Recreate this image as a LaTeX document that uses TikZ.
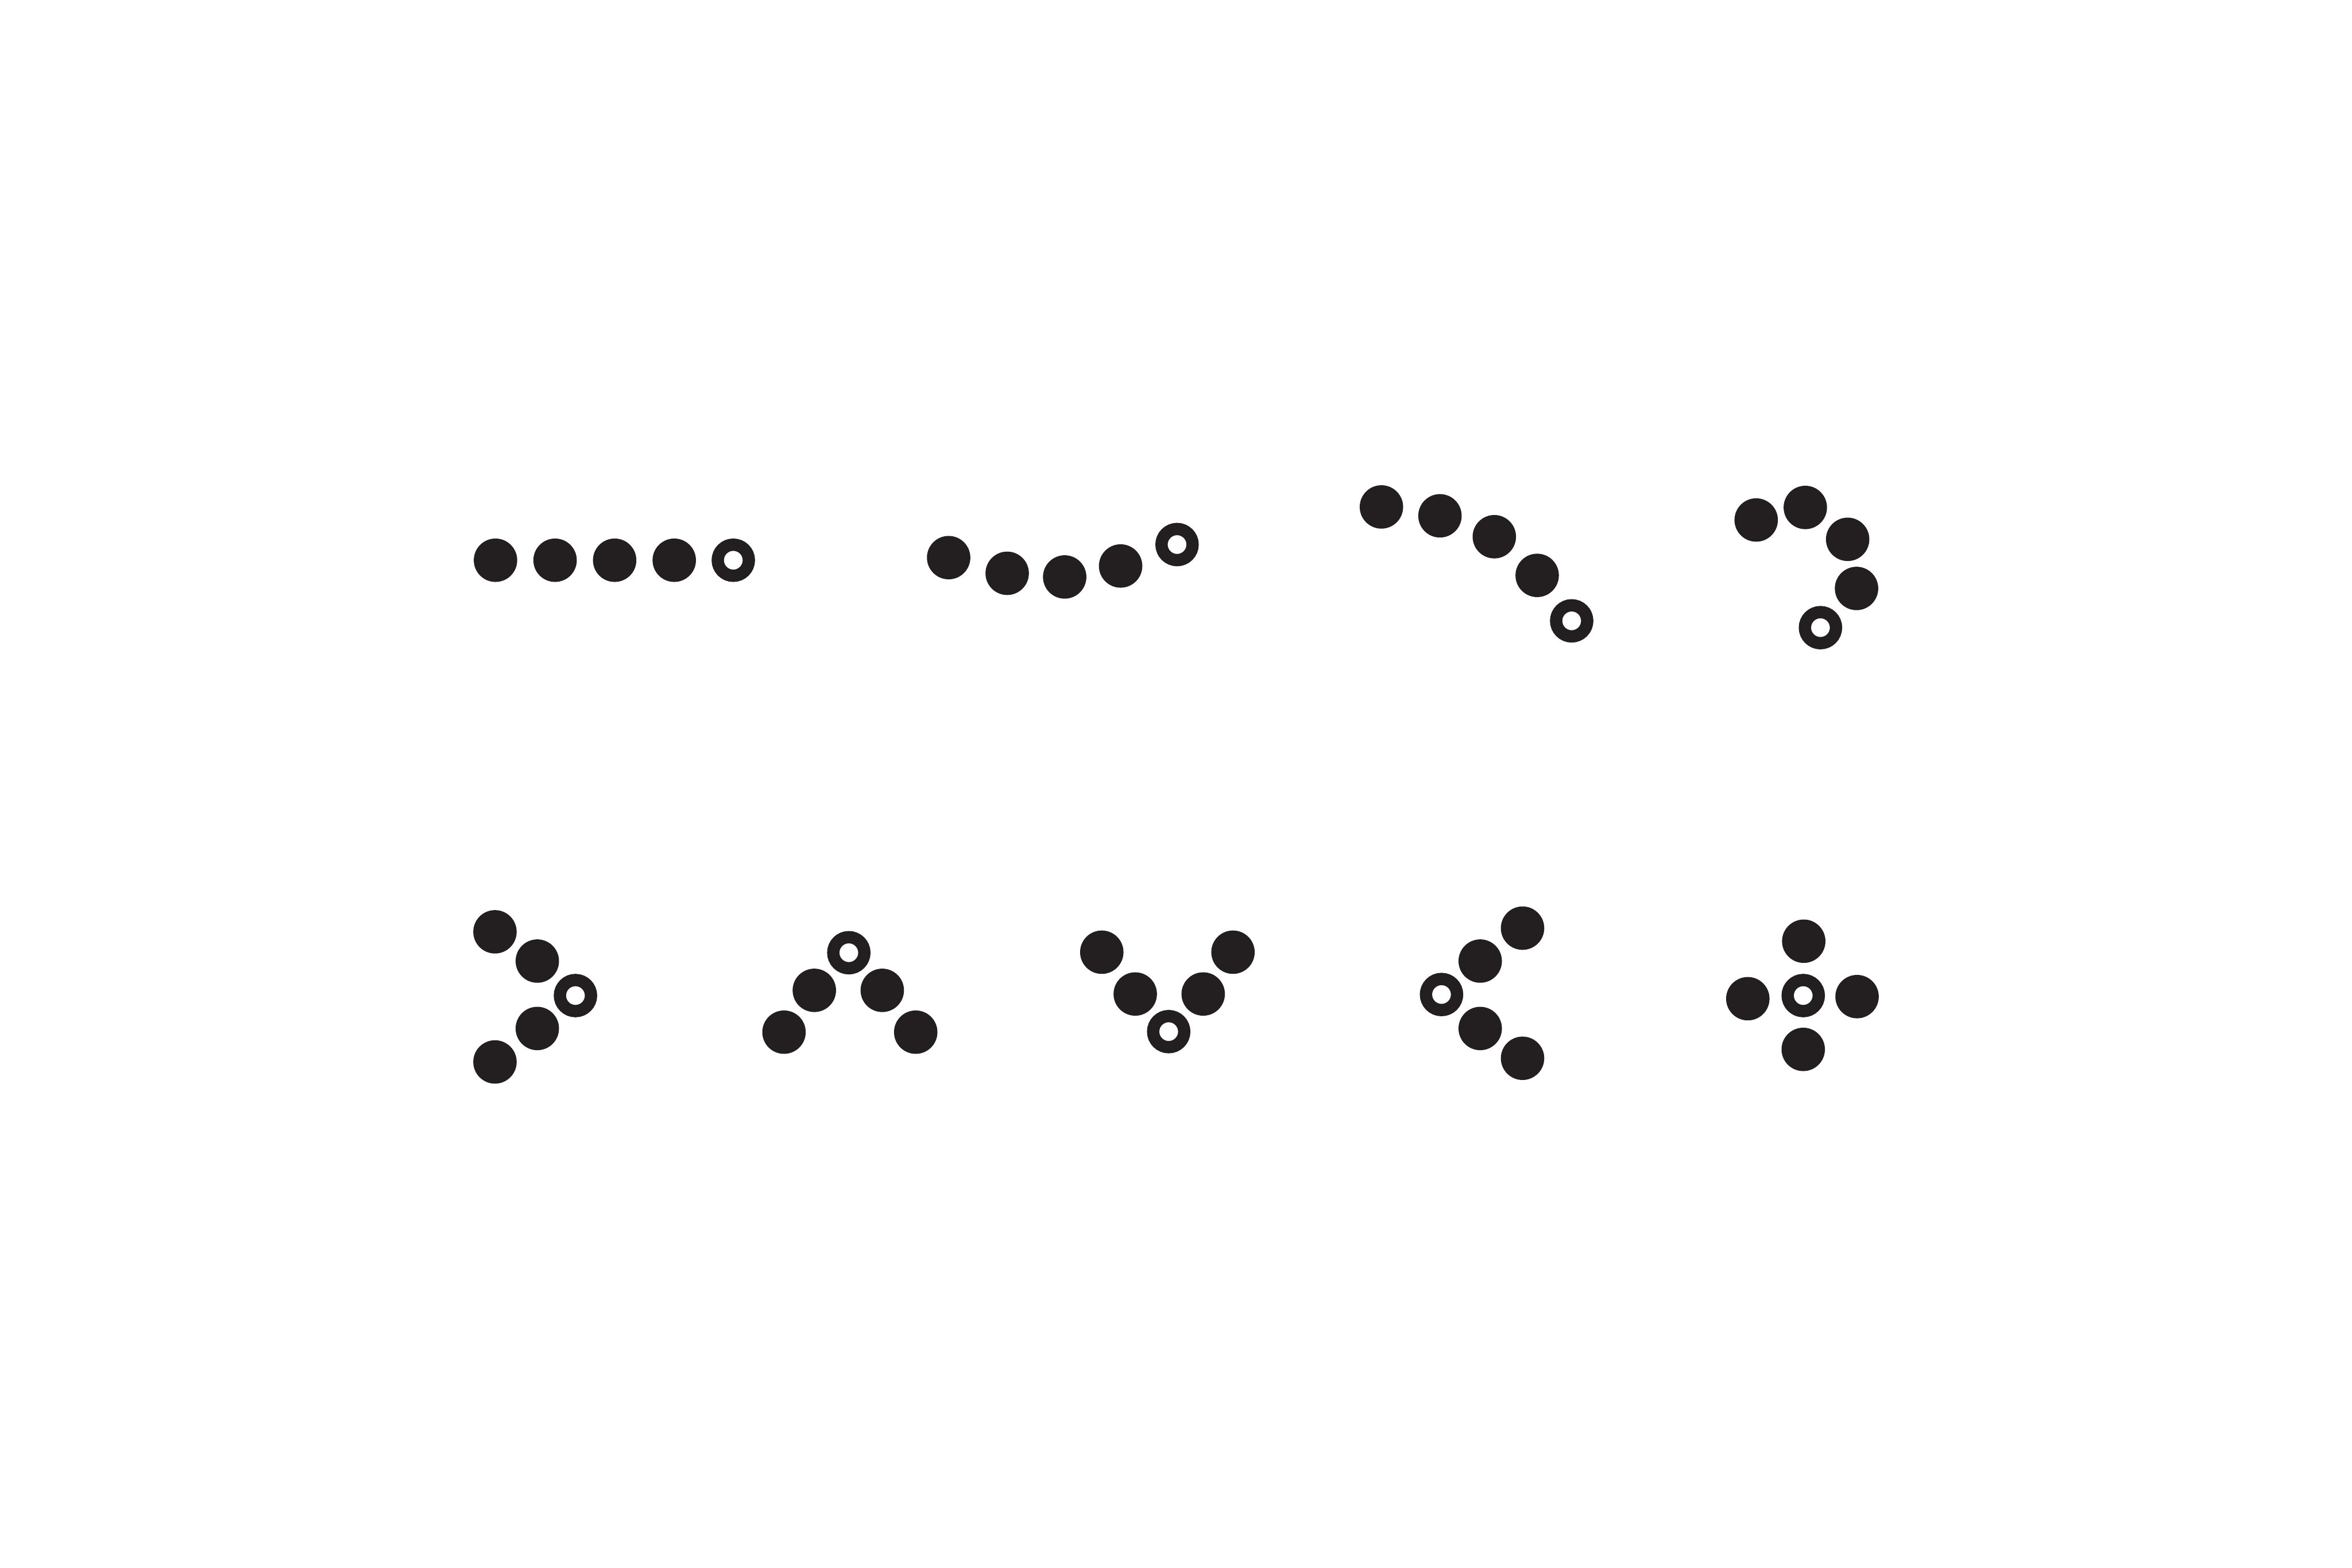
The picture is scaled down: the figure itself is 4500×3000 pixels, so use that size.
\documentclass[tikz,border=0pt]{standalone}
\definecolor{ink}{HTML}{231F20}
\tikzset{
  dot/.style={circle, fill=ink, inner sep=0pt, minimum size=0.83cm},
  ring/.style={circle, draw=ink, line width=0.235cm, inner sep=0pt, minimum size=0.595cm}
}
\begin{document}
\begin{tikzpicture}[x=0.01cm, y=-0.01cm]
\useasboundingbox[fill=white] (0,0) rectangle (4500,3000);
% group 1
\node[dot] (a1) at (948,1072) {};
\node[dot] (a2) at (1062,1072) {};
\node[dot] (a3) at (1176,1072) {};
\node[dot] (a4) at (1290,1072) {};
\node[ring] (a5) at (1403,1072) {};
% group 2
\node[dot] (b1) at (1815,1067) {};
\node[dot] (b2) at (1927,1097) {};
\node[dot] (b3) at (2037,1104) {};
\node[dot] (b4) at (2144,1083) {};
\node[ring] (b5) at (2252,1042) {};
% group 3
\node[dot] (c1) at (2643,970) {};
\node[dot] (c2) at (2755,987) {};
\node[dot] (c3) at (2859,1027) {};
\node[dot] (c4) at (2941,1101) {};
\node[ring] (c5) at (3007,1188) {};
% group 4
\node[dot] (d1) at (3360,995) {};
\node[dot] (d2) at (3454,971) {};
\node[dot] (d3) at (3535,1032) {};
\node[dot] (d4) at (3552,1126) {};
\node[ring] (d5) at (3483,1201) {};
% group 5
\node[dot] (e1) at (947,1783) {};
\node[dot] (e2) at (1028,1839) {};
\node[ring] (e3) at (1101,1905) {};
\node[dot] (e4) at (1028,1968) {};
\node[dot] (e5) at (947,2032) {};
% group 6
\node[ring] (f1) at (1624,1823) {};
\node[dot] (f2) at (1558,1895) {};
\node[dot] (f3) at (1688,1895) {};
\node[dot] (f4) at (1500,1975) {};
\node[dot] (f5) at (1752,1975) {};
% group 7
\node[dot] (g1) at (2108,1822) {};
\node[dot] (g2) at (2359,1822) {};
\node[dot] (g3) at (2172,1902) {};
\node[dot] (g4) at (2302,1902) {};
\node[ring] (g5) at (2236,1974) {};
% group 8
\node[dot] (h1) at (2913,1776) {};
\node[dot] (h2) at (2832,1839) {};
\node[ring] (h3) at (2758,1903) {};
\node[dot] (h4) at (2832,1968) {};
\node[dot] (h5) at (2913,2025) {};
% group 9
\node[dot] (k1) at (3451,1801) {};
\node[dot] (k2) at (3344,1911) {};
\node[ring] (k3) at (3450,1905) {};
\node[dot] (k4) at (3553,1907) {};
\node[dot] (k5) at (3450,2008) {};
\end{tikzpicture}
\end{document}
